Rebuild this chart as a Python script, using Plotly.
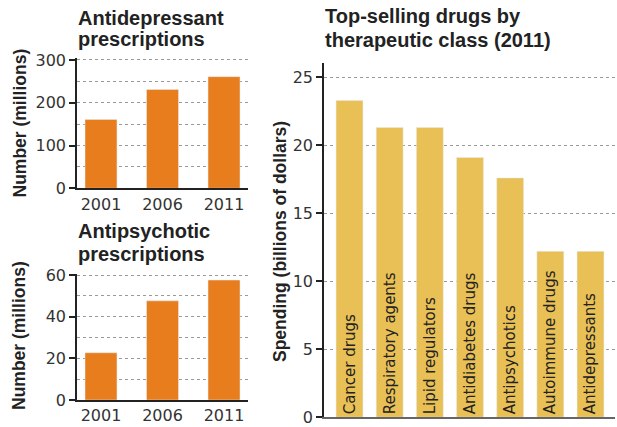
import plotly.graph_objects as go

years = ["2001", "2006", "2011"]
antidep_rx = [161, 231, 261]
antipsy_rx = [22.7, 47.6, 57.6]
drug_classes = ["Cancer drugs", "Respiratory agents", "Lipid regulators",
                "Antidiabetes drugs", "Antipsychotics", "Autoimmune drugs",
                "Antidepressants"]
spending = [23.3, 21.3, 21.3, 19.1, 17.6, 12.2, 12.2]

W, H = 617, 427
ORANGE = "#E87D1E"
GOLD = "#E8C055"
TXT = "#222222"
TICKF = dict(family="DejaVu Sans", size=16, color="#333333")
TITLEF = dict(family="Liberation Sans", size=20, color=TXT)
AXTF = dict(family="Liberation Sans", size=17.5, color=TXT)

def px(x):
    return x / W

def py(y):
    return 1 - y / H

fig = go.Figure()

fig.add_trace(go.Bar(x=years, y=antidep_rx, marker_color=ORANGE, width=0.52,
                     xaxis="x", yaxis="y", showlegend=False, hoverinfo="x+y"))
fig.add_trace(go.Bar(x=years, y=antipsy_rx, marker_color=ORANGE, width=0.52,
                     xaxis="x2", yaxis="y2", showlegend=False, hoverinfo="x+y"))
fig.add_trace(go.Bar(x=drug_classes, y=spending, marker_color=GOLD, width=0.67,
                     text=drug_classes, textposition="inside",
                     insidetextanchor="start", textangle=-90,
                     textfont=dict(family="DejaVu Sans", size=15, color=TXT),
                     constraintext="none",
                     xaxis="x3", yaxis="y3", showlegend=False, hoverinfo="x+y"))

grid = dict(showgrid=True, gridcolor="#9a9a9a", griddash="dot", gridwidth=1)
yax_common = dict(showline=True, linecolor="#222", linewidth=1.5, ticks="outside",
                  ticklen=6, tickcolor="#222", tickwidth=1.5, zeroline=False,
                  tickfont=TICKF, automargin=False, **grid)
xax_common = dict(showline=True, linewidth=2, ticks="", showgrid=False,
                  zeroline=False, tickfont=TICKF, fixedrange=True,
                  automargin=False)

fig.update_layout(
    width=W, height=H,
    margin=dict(l=0, r=0, t=0, b=0, autoexpand=False),
    paper_bgcolor="white", plot_bgcolor="white",
    xaxis=dict(domain=[px(77), px(248)], range=[-0.39, 2.39], anchor="y",
               linecolor="#222", **xax_common),
    yaxis=dict(domain=[py(188.3), py(58)], range=[0, 304.6], anchor="x",
               tickvals=[0, 100, 200, 300],
               minor=dict(dtick=50, showgrid=True, gridcolor="#9a9a9a",
                          griddash="dot", ticklen=0),
               **yax_common),
    xaxis2=dict(domain=[px(77), px(248)], range=[-0.39, 2.39], anchor="y2",
                linecolor="#222", **xax_common),
    yaxis2=dict(domain=[py(400), py(274)], range=[0, 60.5], anchor="x2",
                tickvals=[0, 20, 40, 60],
                minor=dict(dtick=10, showgrid=True, gridcolor="#9a9a9a",
                           griddash="dot", ticklen=0),
                **yax_common),
    xaxis3=dict(domain=[px(324), px(615)], range=[-0.635, 6.61], anchor="y3",
                linecolor="#666", showticklabels=False, **xax_common),
    yaxis3=dict(domain=[py(417.3), py(62.7)], range=[0, 26.07], anchor="x3",
                tickvals=[0, 5, 10, 15, 20, 25], **yax_common),
    bargap=0.3,
)

anns = [
    ("Antidepressant", 77, 27),
    ("prescriptions", 77, 48),
    ("Antipsychotic", 77, 240),
    ("prescriptions", 77, 263),
    ("Top-selling drugs by", 324, 25),
    ("therapeutic class (2011)", 324, 48.5),
]
for t, x, yb in anns:
    fig.add_annotation(text="<b>%s</b>" % t, x=px(x), y=py(yb + 3), xref="paper",
                       yref="paper", xanchor="left", yanchor="bottom",
                       showarrow=False, font=TITLEF, borderpad=0)

for t, x, yc in [("Number (millions)", 19, 123.5),
                 ("Number (millions)", 19, 336),
                 ("Spending (billions of dollars)", 280, 242)]:
    fig.add_annotation(text="<b>%s</b>" % t, x=px(x), y=py(yc), xref="paper",
                       yref="paper", xanchor="center", yanchor="middle",
                       textangle=-90, showarrow=False, font=AXTF)

fig.write_html("out.html")
